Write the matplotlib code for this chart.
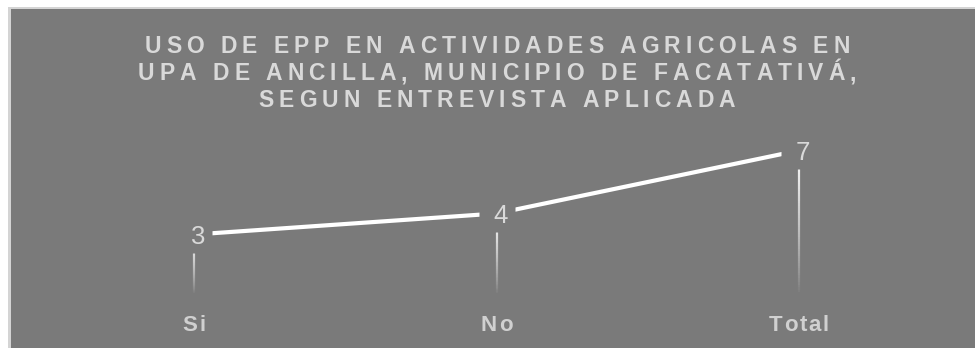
import numpy as np
import matplotlib
matplotlib.use("Agg")
import matplotlib.pyplot as plt
from matplotlib.patches import Rectangle
from matplotlib.collections import LineCollection
from matplotlib.font_manager import FontProperties

# Data
categories = ["Si", "No", "Total"]
values = [3, 4, 7]
title_lines = [
    "USO DE EPP EN ACTIVIDADES AGRICOLAS EN",
    "UPA DE ANCILLA, MUNICIPIO DE FACATATIVÁ,",
    "SEGUN ENTREVISTA APLICADA",
]

W, H = 975, 348
DPI = 100
BG = "#7a7a7a"
TXT = "#d9d9d9"
FONT = ["Liberation Sans", "DejaVu Sans"]

fig = plt.figure(figsize=(W / DPI, H / DPI), dpi=DPI, facecolor="white")

# chart area frame
fig.patches.append(Rectangle((8 / W, 0), 1, (H - 7) / H, transform=fig.transFigure,
                             facecolor="#d4d4d4", edgecolor="none", zorder=-2))
fig.patches.append(Rectangle((11 / W, 0), 1, (H - 9) / H, transform=fig.transFigure,
                             facecolor=BG, edgecolor="none", zorder=-1))

ax = fig.add_axes([43 / W, 50.5 / H, (950 - 43) / W, 168 / H])
ax.set_facecolor("none")
for s in ax.spines.values():
    s.set_visible(False)
ax.set_xticks([])
ax.set_yticks([])
ax.set_xlim(-0.5, len(categories) - 0.5)
ax.set_ylim(0, 8)

x = np.arange(len(categories))

# drop lines with a fading gradient towards the baseline
segs, cols = [], []
n = 60
for xi, v in zip(x, values):
    ys = np.linspace(0.15, v, n + 1)
    for k in range(n):
        segs.append([(xi, ys[k]), (xi, ys[k + 1])])
        a = (k / n) ** 0.8
        cols.append((1, 1, 1, a))
ax.add_collection(LineCollection(segs, colors=cols, linewidths=1.6, zorder=1,
                                 capstyle="butt"))

# main line
ax.plot(x, values, color="white", lw=3.0, solid_capstyle="butt", zorder=2)

# label backdrops that break the line around each value
ax.plot(x, values, linestyle="none", marker="s", markersize=26.5,
        markerfacecolor=BG, markeredgecolor="none", zorder=3)

for xi, v in zip(x, values):
    ax.annotate(str(v), (xi, v), xytext=(4, 0), textcoords="offset pixels",
                ha="center", va="center_baseline", fontsize=18.5, color=TXT,
                family=FONT, zorder=4)

fig.canvas.draw()
renderer = fig.canvas.get_renderer()


def tracked_text(cx, baseline, s, tracking, fp, color):
    """Draw a string centred at cx (pixels) with extra spacing between glyphs."""
    def w(t):
        return renderer.get_text_width_height_descent(t, fp, ismath=False)[0]
    space = w("I I") - w("II")
    widths = [space if ch == " " else w(ch) for ch in s]
    total = sum(widths) + tracking * (len(s) - 1)
    px = cx - total / 2
    for ch, cw in zip(s, widths):
        if ch != " ":
            fig.text(px / W, baseline / H, ch, fontproperties=fp, color=color,
                     ha="left", va="baseline")
        px += cw + tracking


title_fp = FontProperties(family=FONT, weight="bold", size=16.5)
for i, line in enumerate(title_lines):
    tracked_text(497, H - 53 - i * 27, line, 5.0, title_fp, TXT)

cat_fp = FontProperties(family=FONT, weight="bold", size=16)
for xi, c in zip(x, categories):
    cx = ax.transData.transform((xi, 0))[0]
    tracked_text(cx, H - 331, c, 1.8, cat_fp, "#d0d0d0")

fig.savefig("out.png", dpi=DPI, facecolor="white")
